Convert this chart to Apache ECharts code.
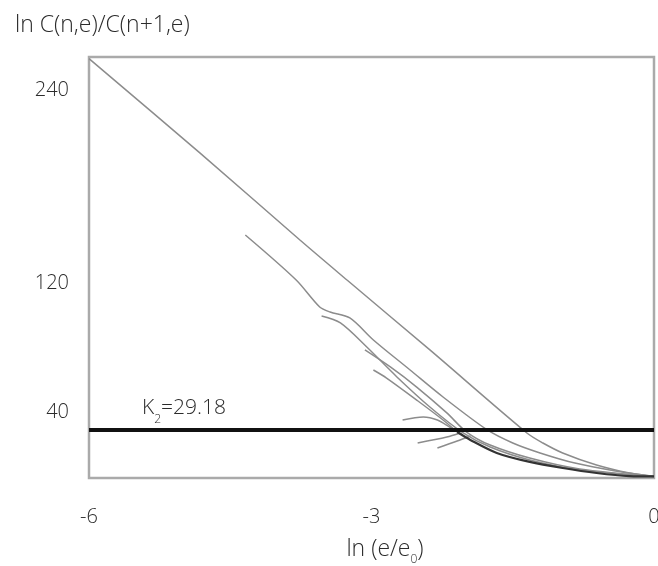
<!DOCTYPE html>
<html>
<head>
<meta charset="utf-8">
<script src="https://cdn.jsdelivr.net/npm/echarts@6/dist/echarts.min.js"></script>
<style>
html, body { margin: 0; padding: 0; background: #fff; }
#chart { width: 658px; height: 566px; }
</style>
</head>
<body>
<div id="chart"></div>
<script>
// axis ticks as printed on the figure
const xTicks = [-6, -3, 0];
const yTicks = [40, 120, 240];
const k2 = 29.18;

// curves, [ln(e/e0), ln C(n,e)/C(n+1,e)]
const lineA = [[-6, 260], [-4.82, 201.2], [-3.76, 147.1], [-3.26, 122.2], [-2.38, 78.7], [-1.35, 27.0], [-1.18, 20.8], [-0.97, 14.6], [-0.61, 7.1], [-0.26, 2.1], [0, 0]];
const lineB = [[-4.34, 150.2], [-3.80, 122.2], [-3.55, 105.4], [-3.44, 102.3], [-3.23, 98.6], [-2.98, 84.9], [-2.59, 66.2], [-2.24, 49.4], [-1.77, 28.9], [-1.50, 20.8], [-1.21, 14.6], [-0.84, 8.3], [-0.41, 3.4], [0, 0]];
const lineC = [[-3.53, 99.8], [-3.33, 95.5], [-3.05, 80.5], [-2.73, 61.9], [-2.38, 43.2], [-2.04, 27.6], [-1.74, 18.3], [-1.32, 10.2], [-0.79, 4.0], [0, 0]];
const lineD = [[-3.07, 78.7], [-2.80, 68.1], [-2.52, 55.6], [-2.20, 39.5], [-1.99, 27.6], [-1.74, 19.5], [-1.32, 11.4], [-0.79, 4.6], [0, 0]];
const lineE = [[-2.98, 66.2], [-2.84, 61.2], [-2.52, 47.5], [-2.24, 35.1], [-2.09, 27.6]];
const lineDark = [[-2.09, 27.6], [-1.95, 22.7], [-1.67, 14.6], [-1.32, 9.0], [-0.97, 5.2], [-0.61, 2.1], [-0.26, 0.2], [0, 0]];
const lineF = [[-2.67, 35.1], [-2.45, 37.0], [-2.30, 35.1], [-2.17, 30.7], [-2.03, 25.8]];
const lineG1 = [[-2.51, 20.8], [-2.20, 24.5], [-2.06, 27.0]];
const lineG2 = [[-2.30, 17.7], [-2.09, 22.0], [-1.95, 25.1]];

const grayLines = [lineA, lineB, lineC, lineD, lineE, lineF, lineG1, lineG2];

const font = '"Open Sans", "Noto Sans", sans-serif';
const textColor = '#2b2b2b';
const subStyle = { fontFamily: font, fontSize: 12, color: textColor, padding: [22, 0, 0, 0] };

function curve(data, color, width) {
    return {
        type: 'line',
        data: data,
        showSymbol: false,
        smooth: 0.3,
        silent: true,
        lineStyle: { color: color, width: width },
    };
}

const series = grayLines.map((d) => curve(d, '#8c8c8c', 1.5));
series.push(curve(lineDark, '#333', 2.2));
series[0].markLine = {
    silent: true,
    symbol: ['none', 'none'],
    lineStyle: { color: '#111', width: 4, type: 'solid' },
    label: {
        position: 'insideStartTop',
        distance: [53, 4],
        formatter: 'K{sub|2}=' + k2,
        fontFamily: font,
        fontSize: 21,
        fontWeight: 300,
        color: textColor,
        rich: { sub: subStyle },
    },
    data: [{ yAxis: k2 }],
};

const chart = echarts.init(document.getElementById('chart'));
chart.setOption({
    animation: false,
    backgroundColor: '#fff',
    title: {
        text: 'ln C(n,e)/C(n+1,e)',
        left: 10,
        top: 9,
        textStyle: { fontFamily: font, fontSize: 23, fontWeight: 300, color: textColor },
    },
    grid: {
        left: 89,
        right: 4,
        top: 57,
        bottom: 88,
        outerBoundsMode: 'none',
        containLabel: false,
        show: true,
        borderColor: '#aaaaaa',
        borderWidth: 2.5,
    },
    xAxis: {
        type: 'value',
        min: -6,
        max: 0,
        interval: 3,
        axisLine: { show: false },
        axisTick: { show: false },
        splitLine: { show: false },
        axisLabel: {
            customValues: xTicks,
            margin: 29,
            fontFamily: font,
            fontSize: 20,
            fontWeight: 300,
            color: textColor,
        },
        name: 'ln (e/e{sub|0})',
        nameLocation: 'middle',
        nameGap: 54,
        nameTextStyle: {
            fontFamily: font,
            fontSize: 23,
            fontWeight: 300,
            color: textColor,
            padding: [0, 0, 0, 27],
            rich: { sub: subStyle },
        },
    },
    yAxis: {
        type: 'value',
        min: -1,
        max: 261,
        axisLine: { show: false },
        axisTick: { show: false },
        splitLine: { show: false },
        axisLabel: {
            customValues: yTicks,
            margin: 20,
            fontFamily: font,
            fontSize: 20,
            fontWeight: 300,
            color: textColor,
        },
    },
    series: series,
});
</script>
</body>
</html>
